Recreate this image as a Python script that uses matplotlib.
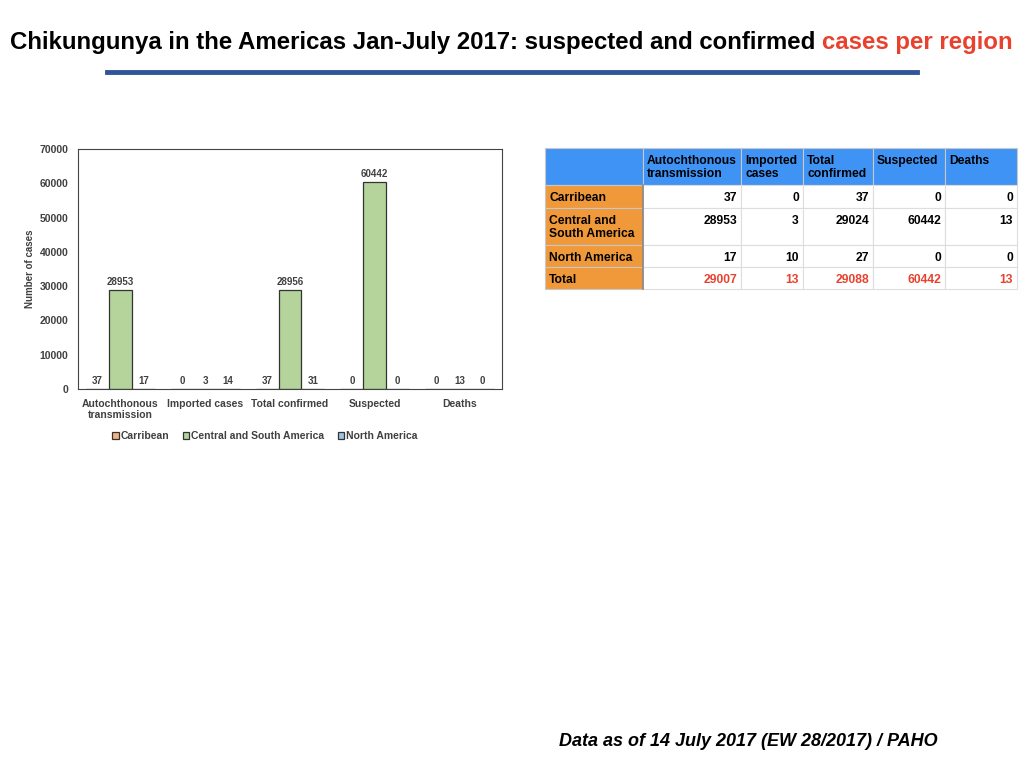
"""Chikungunya in the Americas, Jan-July 2017: bar chart plus summary table"""

import numpy as np
import matplotlib.pyplot as plt
from matplotlib.patches import Rectangle

# ---- data ----
categories = ['Autochthonous\ntransmission', 'Imported cases', 'Total confirmed', 'Suspected', 'Deaths']
regions = ['Carribean', 'Central and South America', 'North America']
carribean = [37, 0, 37, 0, 0]
central_south = [28953, 3, 28956, 60442, 13]
north_america = [17, 14, 31, 0, 0]

table_cols = ['Autochthonous\ntransmission', 'Imported\ncases', 'Total\nconfirmed', 'Suspected', 'Deaths']
table_rows = ['Carribean', 'Central and\nSouth America', 'North America', 'Total']
table_vals = [[37, 0, 37, 0, 0],
              [28953, 3, 29024, 60442, 13],
              [17, 10, 27, 0, 0],
              [29007, 13, 29088, 60442, 13]]

BAR_COLORS = ['#F4B183', '#B4D49B', '#9DC3E6']
TXT = '#404040'
plt.rcParams['font.family'] = ['Liberation Sans', 'DejaVu Sans']

fig = plt.figure(figsize=(10.24, 7.68), dpi=100)

# ---- title ----
renderer = fig.canvas.get_renderer()
t1 = fig.text(10 / 1024, 1 - 42 / 768, 'Chikungunya in the Americas Jan-July 2017: suspected and confirmed ',
              fontsize=17.3, fontweight='bold', va='center', ha='left')
bb = t1.get_window_extent(renderer)
fig.text(bb.x1 / fig.bbox.width, 1 - 42 / 768, 'cases per region', color='#E8422F',
         fontsize=17.3, fontweight='bold', va='center', ha='left')
fig.add_artist(plt.Line2D([107 / 1024, 917 / 1024], [1 - 72 / 768] * 2, color='#2F5597', lw=3.5))

# ---- bar chart ----
ax = fig.add_axes([78 / 1024, 1 - 389 / 768, 424 / 1024, 240 / 768])
x = np.arange(len(categories))
w = 0.27
for i, (vals, name) in enumerate(zip([carribean, central_south, north_america], regions)):
    bars = ax.bar(x + (i - 1) * w, vals, w, color=BAR_COLORS[i], edgecolor='#333333',
                  linewidth=0.9, label=name)
    ax.bar_label(bars, padding=2, fontsize=7, fontweight='bold', color=TXT)
ax.set_xlim(-0.5, len(categories) - 0.5)
ax.set_ylim(0, 70000)
ax.set_yticks(np.arange(0, 70001, 10000))
ax.set_xticks(x, categories)
ax.tick_params(length=0, labelsize=7.5, labelcolor=TXT)
ax.tick_params(axis='x', pad=7); ax.tick_params(axis='y', pad=7)
for lab in ax.get_xticklabels() + ax.get_yticklabels():
    lab.set_fontweight('bold')
ax.set_ylabel('Number of cases', fontsize=7, fontweight='bold', color=TXT, labelpad=3)
for sp in ax.spines.values():
    sp.set_color('#444444'); sp.set_linewidth(0.8)
fig.legend(loc='center', bbox_to_anchor=(265 / 1024, 1 - 436 / 768), ncol=3, frameon=False,
           handlelength=0.6, handleheight=0.6, handletextpad=0.2, columnspacing=1.3,
           prop={'size': 7.5, 'weight': 'bold'}, labelcolor=TXT)

# ---- table ----
col_w = [98, 98, 62, 70, 72, 72]
row_h = [37, 23, 37, 22, 22]
tx0, ty0 = 545, 148
tab = fig.add_axes([tx0 / 1024, 1 - (ty0 + sum(row_h)) / 768, sum(col_w) / 1024, sum(row_h) / 768])
tab.set_xlim(0, sum(col_w)); tab.set_ylim(sum(row_h), 0); tab.axis('off')
xs = np.concatenate([[0], np.cumsum(col_w)])
ys = np.concatenate([[0], np.cumsum(row_h)])
HEAD, SIDE, RED = '#3F93F5', '#F0993A', '#E8422F'
for r in range(len(row_h)):
    for c in range(len(col_w)):
        if r == 0:
            fc = HEAD
        elif c == 0:
            fc = SIDE
        else:
            fc = 'white'
        tab.add_patch(Rectangle((xs[c], ys[r]), col_w[c], row_h[r], facecolor=fc,
                                edgecolor='#DDDDDD' if fc == 'white' else '#C8C8C8', lw=0.8, clip_on=False))
        if r == 0 and c > 0:
            tab.text(xs[c] + 4, ys[r] + 7, table_cols[c - 1], ha='left', va='top',
                     fontsize=8.7, fontweight='bold', linespacing=1.1)
        elif r > 0 and c == 0:
            tab.text(xs[c] + 4, ys[r] + 7, table_rows[r - 1], ha='left', va='top',
                     fontsize=8.7, fontweight='bold', linespacing=1.1)
        elif r > 0:
            tab.text(xs[c + 1] - 4, ys[r] + 7, str(table_vals[r - 1][c - 1]), ha='right', va='top',
                     fontsize=8.7, fontweight='bold', color=RED if r == len(row_h) - 1 else 'black')
tab.plot([xs[1], xs[1]], [ys[1], ys[-1]], color='#888888', lw=1.2, clip_on=False)

# ---- footer ----
fig.text(559 / 1024, 1 - 741 / 768, 'Data as of 14 July 2017 (EW 28/2017) / PAHO',
         fontsize=13, fontweight='bold', fontstyle='italic', va='center', ha='left')

fig.savefig('out.png', dpi=100)
